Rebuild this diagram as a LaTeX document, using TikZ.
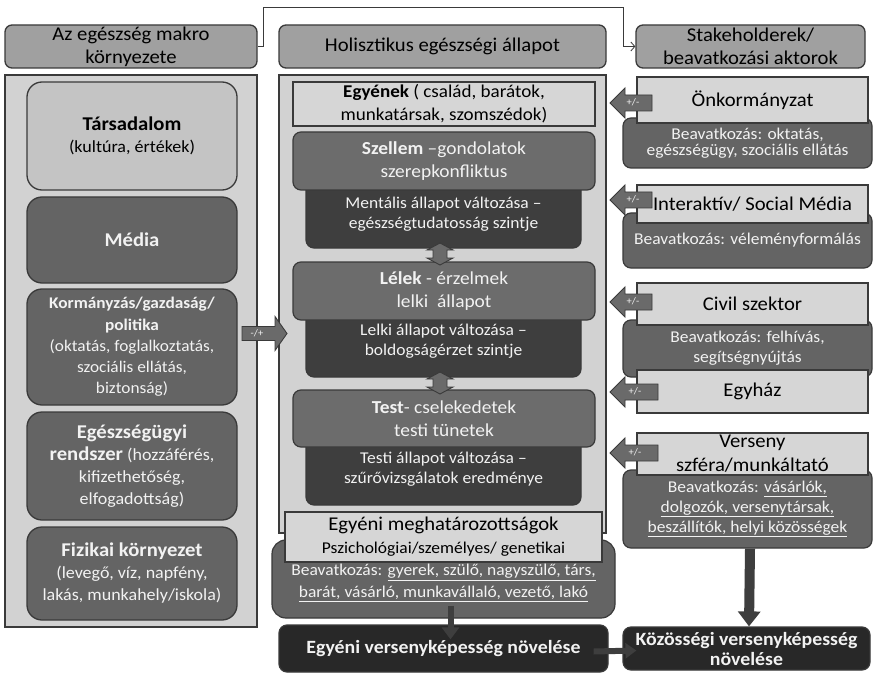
\documentclass[tikz,border=0pt]{standalone}
\usepackage{fontspec}
\setmainfont{Carlito}[FakeStretch=1.06]
\usetikzlibrary{arrows.meta}
\definecolor{bord}{HTML}{3A3A3A}
\definecolor{hdrg}{HTML}{A0A0A0}
\definecolor{pang}{HTML}{D2D2D2}
\definecolor{ltg}{HTML}{C4C4C4}
\definecolor{boxl}{HTML}{D6D6D6}
\definecolor{midg}{HTML}{646464}
\definecolor{szg}{HTML}{6C6C6C}
\definecolor{drk}{HTML}{3E3E3E}
\definecolor{vdrk}{HTML}{282828}
\definecolor{wtxt}{HTML}{F2F2F2}
\definecolor{arrg}{HTML}{6A6A6A}
\newcommand\fs[2]{\fontsize{#1}{#2}\selectfont}
\newcommand\bx[7]{%
 \pgfmathsetmacro\bxw{(#3)-(#2)}%
 \pgfmathsetmacro\bxh{(#5)-(#4)}%
 \pgfmathsetmacro\bxx{((#2)+(#3))/2}%
 \pgfmathsetmacro\bxy{((#4)+(#5))/2}%
 \node[#1, minimum width=\bxw pt, minimum height=\bxh pt] (#6) at (\bxx,\bxy) {#7};}
% horizontal block arrow: tip x, y, tail x, head length (signed), head half, body half
\newcommand\harrow[6]{%
 \draw[barrow] (#1,#2) -- ({#1+#4},{#2-#5}) -- ({#1+#4},{#2-#6}) -- (#3,{#2-#6})
   -- (#3,{#2+#6}) -- ({#1+#4},{#2+#6}) -- ({#1+#4},{#2+#5}) -- cycle;}
% vertical double arrow: x, top y, bottom y
\newcommand\vdarrow[3]{%
 \draw[barrow] (#1,#2) -- ({#1+13},{#2+7}) -- ({#1+7},{#2+7}) -- ({#1+7},{#3-7})
   -- ({#1+13},{#3-7}) -- (#1,#3) -- ({#1-13},{#3-7}) -- ({#1-7},{#3-7})
   -- ({#1-7},{#2+7}) -- ({#1-13},{#2+7}) -- cycle;}
\begin{document}
\begin{tikzpicture}[x=1pt,y=-1pt,
  every node/.style={inner sep=0pt, align=center},
  hdr/.style={draw=bord, line width=1.3pt, fill=hdrg, rounded corners=7pt, font=\fs{19.5}{23}},
  panel/.style={draw=bord, line width=1.5pt, fill=pang},
  lbox/.style={draw=bord, line width=1.3pt, rounded corners=15pt, font=\fs{17}{22}},
  lboxd/.style={lbox, fill=midg, text=wtxt},
  cup/.style={draw=bord, line width=1.2pt, rounded corners=8pt, fill=szg, text=wtxt, font=\fs{18.3}{23}},
  cdn/.style={draw=bord, line width=1.2pt, rounded corners=8pt, fill=drk, text=wtxt, font=\fs{16.5}{20}},
  lightbox/.style={draw=bord, line width=1.3pt, fill=boxl, font=\fs{19.5}{24}},
  darkbox/.style={draw=bord, line width=1.2pt, rounded corners=8pt, fill=midg, text=wtxt, font=\fs{16.5}{20}},
  resbox/.style={draw=bord, line width=1.2pt, rounded corners=8pt, fill=vdrk, text=wtxt, font=\fs{18.7}{20}\bfseries},
  barrow/.style={draw=bord, line width=0.9pt, fill=arrg},
  arrlbl/.style={text=wtxt, font=\fs{10}{10}},
  conn/.style={draw=bord, line width=0.8pt, -{Straight Barb[length=4pt,width=9pt]}},
  thick arrow/.style={draw=drk, line width=#1},
]
\useasboundingbox (0,0) rectangle (874,676);
\fill[white] (0,0) rectangle (874,676);

% headers
\bx{hdr}{5}{257}{25}{68}{hdrL}{Az egészség makro\\környezete}
\bx{hdr}{279}{606}{25}{68}{hdrC}{Holisztikus egészségi állapot}
\bx{hdr}{636}{865}{25}{68}{hdrR}{Stakeholderek/\\beavatkozási aktorok}
\draw[conn] (hdrL.east) -- ++(6,0) |- (623,7) |- (hdrR.west);

% left column
\bx{panel}{5}{257}{75}{627}{panL}{}
\bx{lbox, fill=ltg}{27}{237}{82}{190}{tars}{{\fs{19.5}{23}\bfseries Társadalom}\\(kultúra, értékek)}
\bx{lboxd, font=\fs{19.5}{22}\bfseries}{27}{237}{197}{283}{media}{Média}
\bx{lboxd, font=\fs{16.3}{21.2}}{27}{237}{289}{405}{korm}{{\bfseries Kormányzás/gazdaság/}\\{\bfseries politika}\\(oktatás, foglalkoztatás,\\szociális ellátás,\\biztonság)}
\bx{lboxd}{27}{237}{412}{520}{eges}{{\fs{19.5}{23}\bfseries Egészségügyi}\\{\fs{19.5}{23}\bfseries rendszer} (hozzáférés,\\kifizethetőség,\\elfogadottság)}
\bx{lboxd}{27}{237}{527}{620}{fiz}{{\fs{19.5}{22}\bfseries Fizikai környezet}\\(levegő, víz, napfény,\\lakás, munkahely/iskola)}

% center column
\bx{panel}{279}{606}{75}{533}{panC}{}
\bx{draw=bord, line width=1.3pt, fill=boxl, font=\fs{18}{23}}{293}{595}{82}{126}{egyenek}{{\bfseries Egyének} ( család, barátok,\\munkatársak, szomszédok)}
\bx{cdn}{306}{581}{180}{248}{szD}{Mentális állapot változása –\\egészségtudatosság szintje}
\bx{cup}{293}{595}{132}{190}{szU}{{\bfseries Szellem} –gondolatok\\szerepkonfliktus}
\bx{cdn}{306}{581}{306}{377}{leD}{Lelki állapot változása –\\boldogságérzet szintje}
\bx{cup}{293}{595}{262}{320}{leU}{{\bfseries Lélek} - érzelmek\\lelki~~állapot}
\bx{cdn}{306}{581}{433}{505}{teD}{Testi állapot változása –\\szűrővizsgálatok eredménye}
\bx{cup}{293}{595}{390}{447}{teU}{{\bfseries Test}- cselekedetek\\testi tünetek}
\vdarrow{440}{243}{265}
\vdarrow{440}{372}{394}

% individual determinants
\bx{darkbox, rounded corners=14pt}{272}{615}{540}{618}{bea}{}
\node[text=wtxt, font=\fs{16.5}{22}] (beaT) at (443.5,583) {Beavatkozás: \underline{gyerek, szülő, nagyszülő, társ,}\\\underline{barát, vásárló, munkavállaló, vezető, lakó}};
\bx{lightbox, font=\fs{16.5}{23}}{285}{602}{512}{562}{megh}{{\fs{19.5}{23}Egyéni meghatározottságok}\\Pszichológiai/személyes/ genetikai}

% results
\bx{resbox}{279}{608}{625}{672}{evk}{Egyéni versenyképesség növelése}
\bx{resbox}{623}{870}{627}{670}{koz}{Közösségi versenyképesség\\növelése}

% right column
\bx{darkbox, font=\fs{16.5}{16.5}}{623}{872}{118}{168}{onkD}{Beavatkozás: oktatás,\\egészségügy, szociális ellátás}
\bx{lightbox}{637}{868}{77}{123}{onk}{Önkormányzat}
\bx{darkbox}{623}{872}{213}{268}{intD}{Beavatkozás: véleményformálás}
\bx{lightbox}{637}{868}{185}{223}{inter}{Interaktív/ Social Média}
\bx{darkbox}{623}{872}{320}{377}{civD}{Beavatkozás: felhívás,\\segítségnyújtás}
\bx{lightbox}{637}{868}{283}{325}{civ}{Civil szektor}
\bx{lightbox}{637}{868}{370}{413}{egyh}{Egyház}
\bx{darkbox}{623}{872}{470}{548}{versD}{Beavatkozás: \underline{vásárlók,}\\\underline{dolgozók, versenytársak,}\\\underline{beszállítók, helyi közösségek}}
\bx{lightbox}{637}{868}{433}{475}{vers}{Verseny\\szféra/munkáltató}

% block arrows
\harrow{287}{333.5}{242}{-12}{17}{7}
\node[arrlbl] (mp) at (257,333) {-/+};
\harrow{610}{103}{652}{15}{15}{8}
\node[arrlbl] (pm1) at (633,102) {+/-};
\harrow{610}{200}{652}{15}{15}{8}
\node[arrlbl] (pm2) at (633,199) {+/-};
\harrow{610}{302}{652}{15}{15}{8}
\node[arrlbl] (pm3) at (633,301) {+/-};
\harrow{610}{392}{658}{15}{15}{8}
\node[arrlbl] (pm4) at (635,391) {+/-};
\harrow{610}{453}{658}{15}{15}{8}
\node[arrlbl] (pm5) at (635,452) {+/-};

% flow arrows
\draw[thick arrow=6pt, -{Triangle[width=17pt,length=12pt]}] ([xshift=7pt,yshift=13pt]bea.south) -- ([xshift=7pt,yshift=-15pt]evk.north);
\draw[thick arrow=6pt, -{Triangle[width=15pt,length=11pt]}] ([xshift=-15pt,yshift=-3pt]evk.east) -- ([xshift=14pt,yshift=-2pt]koz.west);
\draw[thick arrow=10pt, -{Triangle[width=22pt,length=15pt]}] ([xshift=2.5pt]versD.south) -- ([xshift=2.5pt]koz.north);
\end{tikzpicture}
\end{document}
